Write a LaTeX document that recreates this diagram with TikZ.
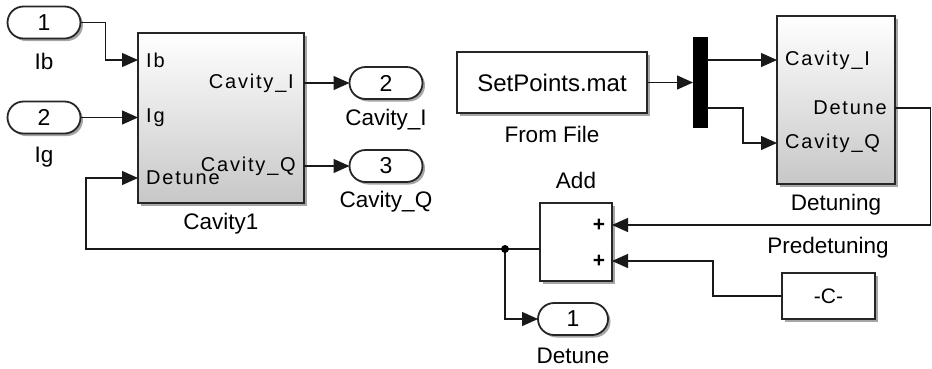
\documentclass[tikz,border=0pt]{standalone}
\usepackage{fontspec}
\setmainfont{Liberation Sans}
\newfontfamily\portfont[LetterSpace=9]{Liberation Sans}
\usetikzlibrary{arrows.meta,shadows}
\tikzset{
  shad/.style={drop shadow={shadow xshift=2.5pt,shadow yshift=-2.5pt,opacity=0.35,fill=black}},
  blk/.style={draw=black!85, line width=1.8pt, fill=white, shad, inner sep=0pt, outer sep=0pt},
  gblk/.style={blk, top color=white, bottom color=black!22},
  oval/.style={blk, rounded corners=16pt, minimum width=73pt, minimum height=32pt,
    font=\fontsize{23}{25}\selectfont},
  lbl/.style={font=\fontsize{22.5}{25}\selectfont, inner sep=0pt},
  plbl/.style={font=\fontsize{20}{22}\selectfont\portfont, inner sep=0pt},
  wire/.style={line width=1.3pt, draw=black!90},
  arr/.style={wire, -{Triangle[length=16pt,width=14pt]}},
  jdot/.style={circle, fill=black, inner sep=0pt, minimum size=8pt},
}
\begin{document}
\begin{tikzpicture}[x=1pt,y=-1pt]
\useasboundingbox (0,0) rectangle (932,368);

% Inports
\node[oval] (in1) at (44,22.5) {1};
\node[lbl] (in1l) at (44,61) {Ib};
\node[oval] (in2) at (44,117.5) {2};
\node[lbl] (in2l) at (44,157) {Ig};

% Cavity1
\node[gblk, minimum width=166pt, minimum height=170pt] (cav) at (221,118) {};
\node[lbl] (cavl) at (221,224) {Cavity1};
\node[plbl, anchor=west] (cIb) at (146,60) {Ib};
\node[plbl, anchor=west] (cIg) at (146,117.5) {Ig};
\node[plbl, anchor=west] (cDet) at (146,178) {Detune};
\node[plbl, anchor=east] (cCI) at (294,83) {Cavity\_I};
\node[plbl, anchor=east] (cCQ) at (296,166) {Cavity\_Q};

% Outports
\node[oval] (out2) at (386,83) {2};
\node[lbl] (out2l) at (386,120) {Cavity\_I};
\node[oval] (out3) at (386,166) {3};
\node[lbl] (out3l) at (386,202) {Cavity\_Q};

% From File
\node[blk, minimum width=190pt, minimum height=61pt, font=\fontsize{24}{26}\selectfont] (ff) at (552,82.5) {SetPoints.mat};
\node[lbl] (ffl) at (552,134) {From File};

% Demux
\node[fill=black, draw=black, minimum width=14pt, minimum height=90pt, inner sep=0pt, outer sep=0pt] (dmx) at (700,82) {};

% Detuning
\node[gblk, minimum width=118pt, minimum height=168pt] (dtn) at (836,100) {};
\node[lbl] (dtnl) at (836,205) {Detuning};
\node[plbl, anchor=west] (dCI) at (785,60) {Cavity\_I};
\node[plbl, anchor=east] (dDet) at (887,108) {Detune};
\node[plbl, anchor=west] (dCQ) at (785,143) {Cavity\_Q};

% Add
\node[blk, minimum width=72pt, minimum height=78pt] (add) at (576,242) {};
\node[lbl] (addl) at (576,180) {Add};
\node[font=\fontsize{21}{23}\selectfont\bfseries, inner sep=0pt] (p1) at (599,225) {+};
\node[font=\fontsize{21}{23}\selectfont\bfseries, inner sep=0pt] (p2) at (599,261) {+};

% Constant
\node[blk, minimum width=93pt, minimum height=46pt, font=\fontsize{21}{23}\selectfont] (cst) at (828.5,296) {-C-};
\node[lbl] (cstl) at (828,248) {Predetuning};

% Outport Detune
\node[oval, minimum width=70pt] (out1) at (573,319) {1};
\node[lbl] (out1l) at (573,356) {Detune};

% Helper coordinates
\coordinate (fb) at (86,249);
\coordinate (jn) at (505,249);
\coordinate (rt) at (930.5,108);
\coordinate (ckink) at (713,296);
\coordinate (dkink) at (743,108);

% Wires
\draw[arr] (in1.east) -- ++(25,0) |- (cIb.west -| cav.west);
\draw[arr] (in2.east) -- (in2.east -| cav.west);
\draw[arr] (cav.east |- out2) -- (out2.west);
\draw[arr] (cav.east |- out3) -- (out3.west);
\draw[arr] (ff.east) -- (ff.east -| dmx.west);
\draw[arr] (dmx.east |- dCI) -- (dCI.west -| dtn.west);
\draw[arr] (dmx.east |- dDet) -- (dkink) |- (dCQ.west -| dtn.west);
\draw[wire] (dtn.east |- dDet) -- (rt);
\draw[arr] (rt) |- (p1.east -| add.east);
\draw[arr] (cst.west) -- (ckink) |- (p2.east -| add.east);
\draw[wire] (add.west |- jn) -- (jn);
\draw[arr] (jn) -- (fb) |- (cDet.west -| cav.west);
\draw[arr] (jn) |- (out1.west);
\node[jdot] (jd) at (jn) {};
\end{tikzpicture}
\end{document}
